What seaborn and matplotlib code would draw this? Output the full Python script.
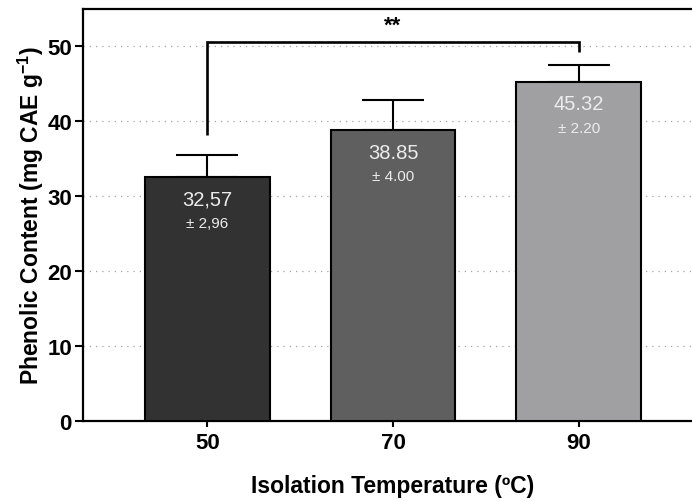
import matplotlib
matplotlib.use("Agg")
import matplotlib.pyplot as plt
import seaborn as sns
import pandas as pd

# Phenolic content by isolation temperature
temperatures = ["50", "70", "90"]
means = [32.57, 38.85, 45.32]
sds = [2.96, 4.00, 2.20]
mean_labels = ["32,57", "38.85", "45.32"]
sd_labels = ["± 2,96", "± 4.00", "± 2.20"]
bar_colors = ["#323232", "#5f5f5f", "#a09fa4"]
y_ticks = [0, 10, 20, 30, 40, 50]

sns.set_theme(style="white")
plt.rcParams["font.family"] = ["Liberation Sans", "DejaVu Sans"]
plt.rcParams["mathtext.fontset"] = "custom"
plt.rcParams["mathtext.rm"] = "Liberation Sans:bold"
plt.rcParams["mathtext.bf"] = "Liberation Sans:bold"

df = pd.DataFrame({"temp": temperatures, "value": means})

fig = plt.figure(figsize=(6.92, 5.02), dpi=100)
ax = fig.add_axes([83 / 692, 80 / 502, 620 / 692, 412 / 502])

ax.yaxis.grid(True, linestyle=(0, (1, 4)), color="#a5a5a5", linewidth=0.9)
ax.set_axisbelow(True)

sns.barplot(data=df, x="temp", y="value", hue="temp", palette=bar_colors,
            width=0.67, edgecolor="black", linewidth=1.5, legend=False,
            ax=ax, zorder=3)

ax.errorbar(range(len(means)), means, yerr=[[0] * len(sds), sds], fmt="none",
            ecolor="black", elinewidth=1.5, capsize=22, capthick=1.5, zorder=2)

light = ["Liberation Sans Narrow", "Liberation Sans", "DejaVu Sans"]
for i, (m, ml, sl) in enumerate(zip(means, mean_labels, sd_labels)):
    ax.text(i, m - 3.0, ml, ha="center", va="center", color="#ececec",
            fontsize=14.5, family=light, zorder=5)
    ax.text(i, m - 6.2, sl, ha="center", va="center", color="#ececec",
            fontsize=11, family=light, zorder=5)

# significance bracket between 50 and 90
ax.plot([0, 0, 2, 2], [38.2, 50.6, 50.6, 49.2], color="black",
        linewidth=1.9, solid_capstyle="butt", solid_joinstyle="miter", zorder=4)
ax.text(1, 52.8, "**", ha="center", va="center", fontsize=16,
        fontweight="bold", color="black")

ax.set_xlim(-0.67, 2.67)
ax.set_ylim(0, 55)
ax.set_yticks(y_ticks)

for side in ["left", "bottom", "top", "right"]:
    ax.spines[side].set_visible(True)
    ax.spines[side].set_color("black")
    ax.spines[side].set_linewidth(1.6)

ax.tick_params(axis="y", direction="out", length=6, width=1.5, left=True,
               labelsize=16, pad=2, color="black")
ax.tick_params(axis="x", direction="out", length=4, width=1.5, bottom=True,
               labelsize=16, pad=4, color="black")
for lbl in ax.get_xticklabels() + ax.get_yticklabels():
    lbl.set_fontweight("bold")
    lbl.set_color("black")

ax.set_xlabel("Isolation Temperature (ºC)", fontsize=16.5, fontweight="bold",
              color="black", labelpad=15)
ax.set_ylabel(r"Phenolic Content (mg CAE g$^{-1}$)", fontsize=16.5,
              fontweight="bold", color="black", labelpad=1)

fig.savefig("out.png", dpi=100)
